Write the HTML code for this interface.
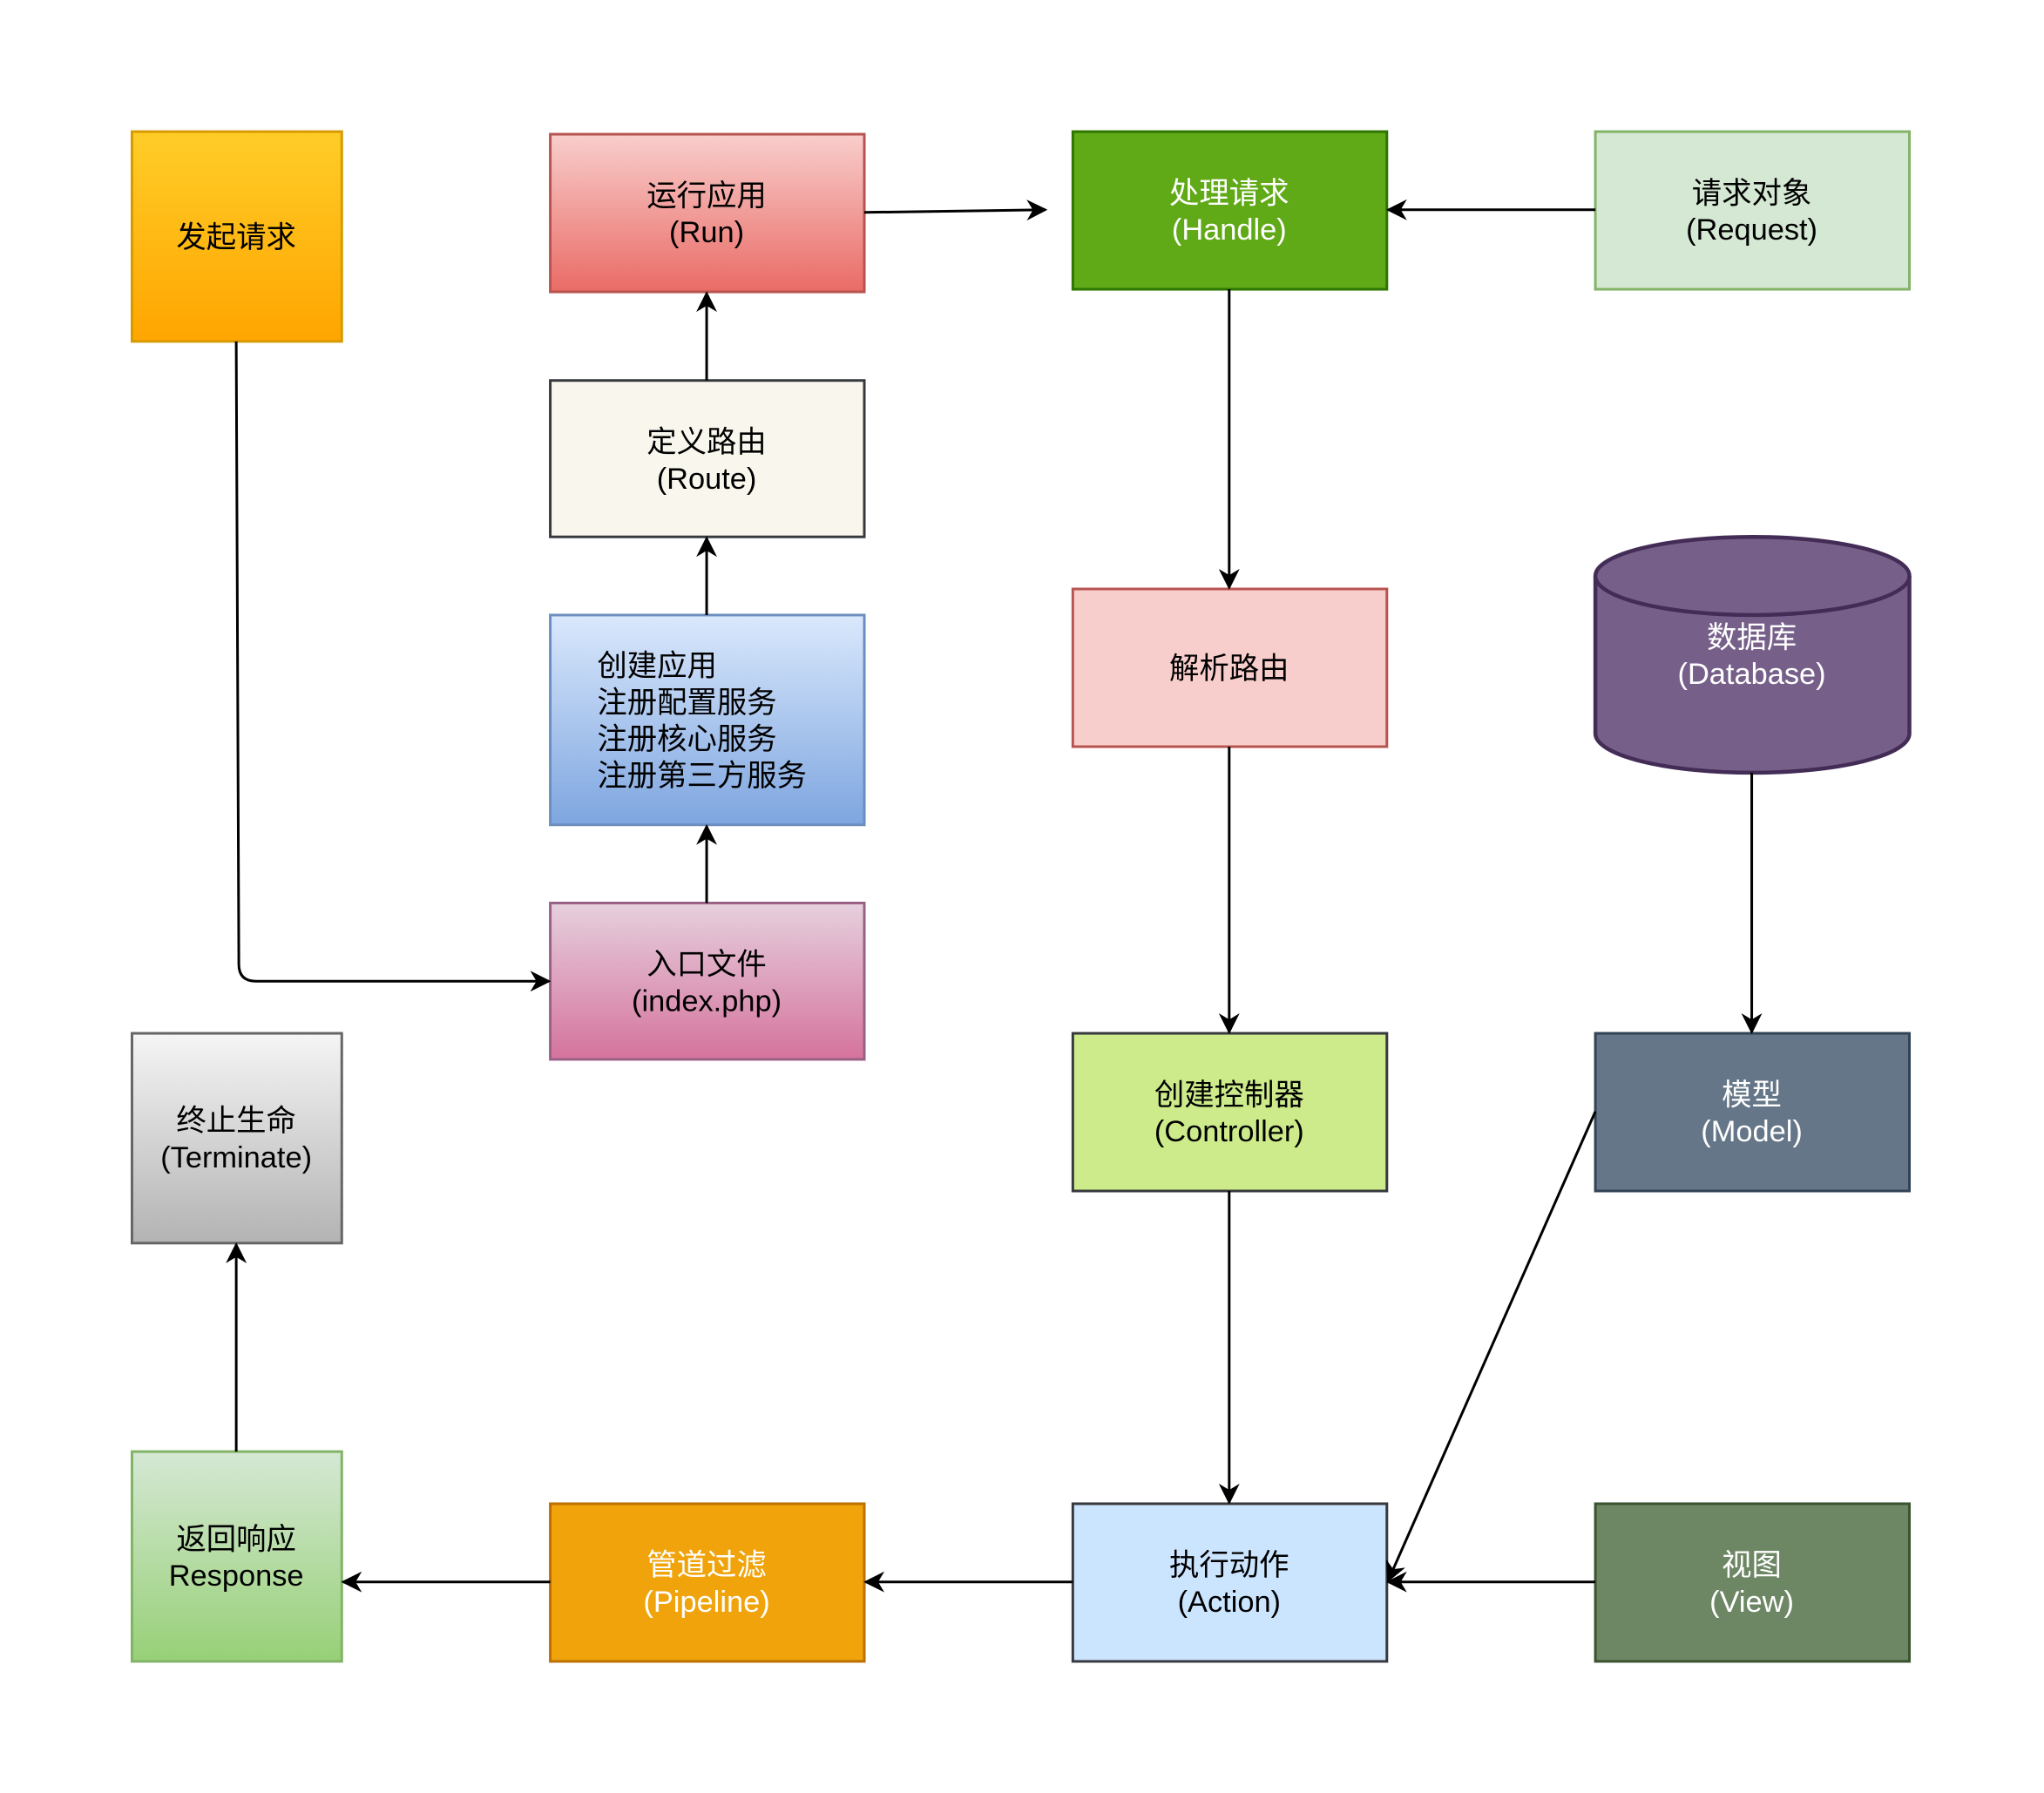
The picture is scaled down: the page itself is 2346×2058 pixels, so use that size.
<!DOCTYPE html>
<html><head><meta charset="utf-8"><style>
html,body{margin:0;padding:0;background:#fff;}
svg{display:block;}
text{font-family:"Liberation Sans","Noto Sans CJK SC",sans-serif;font-size:23px;}
</style></head><body>
<svg width="2346" height="2058" viewBox="0 0 1568 1376" xmlns="http://www.w3.org/2000/svg">
<defs>
<linearGradient id="gO" x1="0" y1="0" x2="0" y2="1"><stop offset="0" stop-color="#ffcd28"/><stop offset="1" stop-color="#ffa500"/></linearGradient>
<linearGradient id="gR" x1="0" y1="0" x2="0" y2="1"><stop offset="0" stop-color="#f8cecc"/><stop offset="1" stop-color="#ea6b66"/></linearGradient>
<linearGradient id="gB" x1="0" y1="0" x2="0" y2="1"><stop offset="0" stop-color="#dae8fc"/><stop offset="1" stop-color="#7ea6e0"/></linearGradient>
<linearGradient id="gP" x1="0" y1="0" x2="0" y2="1"><stop offset="0" stop-color="#e6d0de"/><stop offset="1" stop-color="#d5739d"/></linearGradient>
<linearGradient id="gG" x1="0" y1="0" x2="0" y2="1"><stop offset="0" stop-color="#f5f5f5"/><stop offset="1" stop-color="#b3b3b3"/></linearGradient>
<linearGradient id="gGr" x1="0" y1="0" x2="0" y2="1"><stop offset="0" stop-color="#d5e8d4"/><stop offset="1" stop-color="#97d077"/></linearGradient>
<marker id="a" viewBox="0 0 10 10" refX="9" refY="5" markerWidth="16" markerHeight="16" orient="auto" markerUnits="userSpaceOnUse"><path d="M0,0 L10,5 L0,10 L3,5 z" fill="#000"/></marker>
</defs>
<g stroke-width="2">
<rect x="101" y="101" width="161" height="161" fill="url(#gO)" stroke="#d79b00"/>
<rect x="422" y="103" width="241" height="121" fill="url(#gR)" stroke="#b85450"/>
<rect x="823" y="101" width="241" height="121" fill="#60a917" stroke="#2d7600"/>
<rect x="1224" y="101" width="241" height="121" fill="#d5e8d4" stroke="#82b366"/>
<rect x="422" y="292" width="241" height="120" fill="#f9f7ed" stroke="#36393d"/>
<rect x="422" y="472" width="241" height="161" fill="url(#gB)" stroke="#6c8ebf"/>
<rect x="422" y="693" width="241" height="120" fill="url(#gP)" stroke="#996185"/>
<rect x="823" y="452" width="241" height="121" fill="#f8cecc" stroke="#b85450"/>
<path d="M1224,442 A120.5,30 0 0 1 1465,442 L1465,563 A120.5,30 0 0 1 1224,563 Z" fill="#76608a" stroke="#432d57" stroke-width="3"/>
<path d="M1224,442 A120.5,30 0 0 0 1465,442" fill="none" stroke="#432d57" stroke-width="3"/>
<rect x="101" y="793" width="161" height="161" fill="url(#gG)" stroke="#666666"/>
<rect x="823" y="793" width="241" height="121" fill="#cdeb8b" stroke="#36393d"/>
<rect x="1224" y="793" width="241" height="121" fill="#647687" stroke="#314354"/>
<rect x="101" y="1114" width="161" height="161" fill="url(#gGr)" stroke="#82b366"/>
<rect x="422" y="1154" width="241" height="121" fill="#f0a30a" stroke="#bd7000"/>
<rect x="823" y="1154" width="241" height="121" fill="#cce5ff" stroke="#36393d"/>
<rect x="1224" y="1154" width="241" height="121" fill="#6d8764" stroke="#3a5431"/>
</g>
<g stroke="#000" stroke-width="2" fill="none" marker-end="url(#a)">
<path d="M181,262 L183,740 Q183,753 196,753 L421,753"/>
<path d="M542,693 L542,634"/>
<path d="M542,472 L542,413"/>
<path d="M542,292 L542,225"/>
<path d="M663,163 L802,161"/>
<path d="M1224,161 L1065,161"/>
<path d="M943,222 L943,451"/>
<path d="M943,573 L943,792"/>
<path d="M1344,593 L1344,792"/>
<path d="M943,914 L943,1153"/>
<path d="M1224,853 L1065,1213"/>
<path d="M1224,1214 L1065,1214"/>
<path d="M823,1214 L664,1214"/>
<path d="M422,1214 L263,1214"/>
<path d="M181,1114 L181,955"/>
</g>
<g text-anchor="middle" fill="#000">
<text x="181" y="190">发起请求</text>
<text x="542" y="158">运行应用</text><text x="542" y="186">(Run)</text>
<text x="943" y="156" fill="#fff">处理请求</text><text x="943" y="184" fill="#fff">(Handle)</text>
<text x="1344" y="156">请求对象</text><text x="1344" y="184">(Request)</text>
<text x="542" y="347">定义路由</text><text x="542" y="375">(Route)</text>
<text x="542" y="748">入口文件</text><text x="542" y="776">(index.php)</text>
<text x="943" y="521">解析路由</text>
<text x="1344" y="497" fill="#fff">数据库</text><text x="1344" y="525" fill="#fff">(Database)</text>
<text x="181" y="868">终止生命</text><text x="181" y="896">(Terminate)</text>
<text x="943" y="848">创建控制器</text><text x="943" y="876">(Controller)</text>
<text x="1344" y="848" fill="#fff">模型</text><text x="1344" y="876" fill="#fff">(Model)</text>
<text x="181" y="1189">返回响应</text><text x="181" y="1217">Response</text>
<text x="542" y="1209" fill="#fff">管道过滤</text><text x="542" y="1237" fill="#fff">(Pipeline)</text>
<text x="943" y="1209">执行动作</text><text x="943" y="1237">(Action)</text>
<text x="1344" y="1209" fill="#fff">视图</text><text x="1344" y="1237" fill="#fff">(View)</text>
</g>
<g fill="#000">
<text x="458" y="519">创建应用</text>
<text x="458" y="547">注册配置服务</text>
<text x="458" y="575">注册核心服务</text>
<text x="458" y="603">注册第三方服务</text>
</g>
</svg>
</body></html>
